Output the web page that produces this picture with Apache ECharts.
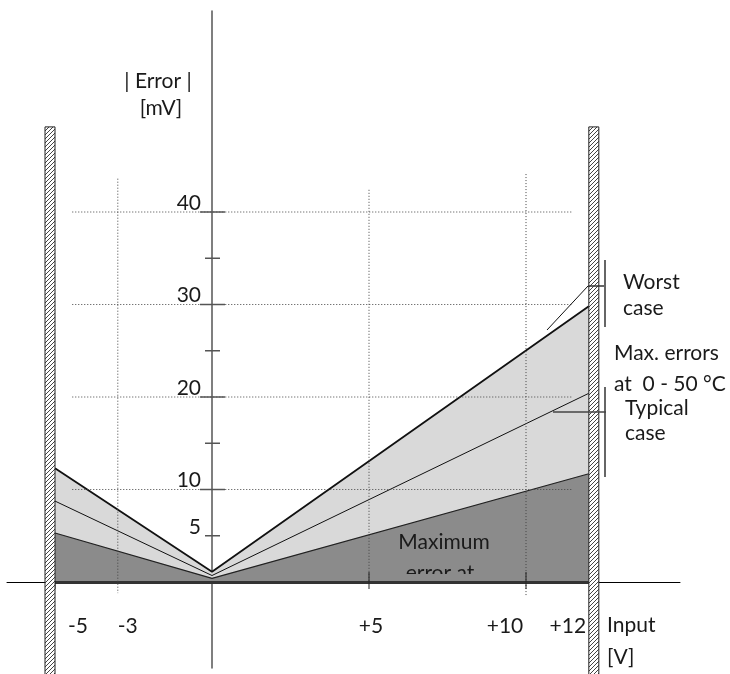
<!DOCTYPE html>
<html><head><meta charset="utf-8">
<script src="https://cdn.jsdelivr.net/npm/echarts@6/dist/echarts.min.js"></script>
<style>html,body{margin:0;padding:0;background:#fff}#c{width:730px;height:674px}</style>
</head><body><div id="c"></div>
<script>
// ---------- data ----------
const xPoints = [-5, 0, 12];
const worstCase = [12.3, 1.1, 29.8];
const typicalCase = [8.75, 0.7, 20.4];
const maxErrorAt = [5.3, 0.4, 11.7];
const yTickValues = [5, 10, 15, 20, 25, 30, 35, 40];
const yLabelValues = [5, 10, 20, 30, 40];
const yLabelTexts = ['5', '10', '20', '30', '40'];
const xTickValues = [-5, 5, 10];
const xLabelValues = [-5, -3, 5, 10, 12];
const xLabelTexts = ['-5', '-3', '+5', '+10', '+12'];
const gridYValues = [10, 20, 30, 40];
const gridXValues = [-3, 5, 10];
const wallXValues = [-5, 12];
const wallTopValue = 49.2;

// ---------- styling / layout ----------
const FONT = 'Lato, "Noto Sans", sans-serif';
const FS = 21;
const TXT = '#1a1a1a';
const xLabelDx = [23, 10, 2, -21, -21];
const GRID_H_FROM = -4.45, GRID_H_TO = 11.5;
const gridXTop = [43.6, 42.4, 44.1];
const gridXBottom = [-1.2, 0, -1.6];
const WALL_BOTTOM = -10;
const WALL_W = 10;

function hatch() {
  const c = document.createElement('canvas');
  c.width = 4; c.height = 4;
  const g = c.getContext('2d');
  g.fillStyle = '#fff'; g.fillRect(0, 0, 4, 4);
  g.strokeStyle = '#444'; g.lineWidth = 1;
  g.beginPath();
  g.moveTo(0, 4); g.lineTo(4, 0);
  g.moveTo(-1, 1); g.lineTo(1, -1);
  g.moveTo(3, 5); g.lineTo(5, 3);
  g.stroke();
  return c;
}
const hatchCanvas = hatch();

const chart = echarts.init(document.getElementById('c'), null, {renderer: 'canvas'});

const pts = arr => xPoints.map((x, i) => [x, arr[i]]);
const txt = (text, x, y, align) => ({type: 'text', z: 100, x, y,
  style: {text, fill: TXT, fontSize: FS, fontFamily: FONT, align: align || 'left', verticalAlign: 'middle'}});

const option = {
  animation: false,
  backgroundColor: '#fff',
  grid: {left: 7, right: 50, top: 11, bottom: 6, containLabel: false, outerBoundsMode: 'none'},
  xAxis: {
    type: 'value', min: -6.529, max: 14.904,
    axisLine: {show: true, onZero: true, lineStyle: {color: '#000', width: 1}},
    axisTick: {show: false}, axisLabel: {show: false}, splitLine: {show: false}
  },
  yAxis: {
    type: 'value', min: -9.297, max: 61.73,
    axisLine: {show: true, onZero: true, lineStyle: {color: '#555', width: 1.5}},
    axisTick: {show: false}, axisLabel: {show: false}, splitLine: {show: false}
  },
  series: [
    {
      name: 'Worst case', type: 'line', data: pts(worstCase), symbol: 'none', z: 2,
      lineStyle: {color: '#111', width: 1.8}, areaStyle: {color: '#d9d9d9', opacity: 1}
    },
    {
      name: 'Maximum error at', type: 'line', data: pts(maxErrorAt), symbol: 'none', z: 3,
      lineStyle: {color: '#222', width: 1.2}, areaStyle: {color: '#8b8b8b', opacity: 1},
      markLine: {
        symbol: 'none', silent: true, label: {show: false},
        lineStyle: {color: '#333', width: 3, type: 'solid'},
        data: [[{coord: [xPoints[0], 0]}, {coord: [xPoints[xPoints.length - 1], 0]}]]
      }
    },
    {
      name: 'Typical case', type: 'line', data: pts(typicalCase), symbol: 'none', z: 4,
      lineStyle: {color: '#111', width: 1}
    },
    {
      name: 'hgrid', type: 'custom', z: 5, silent: true,
      data: gridYValues.map(v => [0, v]),
      renderItem: (params, api) => {
        const y = api.value(1);
        const a = api.coord([GRID_H_FROM, y]), b = api.coord([GRID_H_TO, y]);
        return {type: 'line', shape: {x1: a[0], y1: a[1], x2: b[0], y2: b[1]},
          style: {stroke: '#444', lineWidth: 1, lineDash: [1, 2]}};
      }
    },
    {
      name: 'vgrid', type: 'custom', z: 5, silent: true,
      data: gridXValues.map(v => [v, 0]),
      renderItem: (params, api) => {
        const x = api.value(0), i = params.dataIndex;
        const a = api.coord([x, gridXTop[i]]), b = api.coord([x, gridXBottom[i]]);
        return {type: 'line', shape: {x1: a[0], y1: a[1], x2: b[0], y2: b[1]},
          style: {stroke: '#444', lineWidth: 1, lineDash: [1, 2]}};
      }
    },
    {
      name: 'walls', type: 'custom', z: 7, silent: true, clip: false,
      data: wallXValues.map(v => [v, wallTopValue]),
      renderItem: (params, api) => {
        const x = api.value(0);
        const t = api.coord([x, api.value(1)]), b = api.coord([x, WALL_BOTTOM]);
        const left = params.dataIndex === 0 ? t[0] - WALL_W : t[0];
        return {type: 'rect', shape: {x: left, y: t[1], width: WALL_W, height: b[1] - t[1]},
          style: {fill: {image: hatchCanvas, repeat: 'repeat'}, stroke: '#222', lineWidth: 1}};
      }
    },
    {
      name: 'yticks', type: 'custom', z: 6, silent: true,
      data: yTickValues.map(v => [0, v]),
      renderItem: (params, api) => {
        const v = api.value(1);
        const p = api.coord([0, v]);
        const major = v % 10 === 0;
        return {type: 'line', shape: {x1: p[0] - (major ? 12 : 7), y1: p[1], x2: p[0] + (major ? 13 : 8), y2: p[1]},
          style: {stroke: '#555', lineWidth: 1.5}};
      }
    },
    {
      name: 'xticks', type: 'custom', z: 6, silent: true, clip: false,
      data: xTickValues.map(v => [v, 0]),
      renderItem: (params, api) => {
        const v = api.value(0);
        const p = api.coord([v, 0]);
        const up = v < 0 ? 0 : 10;
        return {type: 'line', shape: {x1: p[0], y1: p[1] - up, x2: p[0], y2: p[1] + 7},
          style: {stroke: '#222', lineWidth: 1}};
      }
    },
    {
      name: 'ylabels', type: 'custom', z: 8, silent: true, clip: false,
      data: yLabelValues.map(v => [0, v]),
      renderItem: (params, api) => {
        const p = api.coord([0, api.value(1)]);
        return {type: 'text', x: p[0] - 11, y: p[1] - 9,
          style: {text: yLabelTexts[params.dataIndex], fill: TXT, fontSize: FS, fontFamily: FONT,
            align: 'right', verticalAlign: 'middle'}};
      }
    },
    {
      name: 'xlabels', type: 'custom', z: 8, silent: true, clip: false,
      data: xLabelValues.map(v => [v, 0]),
      renderItem: (params, api) => {
        const p = api.coord([api.value(0), 0]);
        return {type: 'text', x: p[0] + xLabelDx[params.dataIndex], y: p[1] + 44,
          style: {text: xLabelTexts[params.dataIndex], fill: TXT, fontSize: FS, fontFamily: FONT,
            align: 'center', verticalAlign: 'middle'}};
      }
    }
  ],
  graphic: [
    txt('| Error |', 158, 81, 'center'),
    txt('[mV]', 161, 108, 'center'),
    txt('Input', 607, 625),
    txt('[V]', 607, 657),
    txt('Worst', 623, 282),
    txt('case', 623, 308),
    txt('Max. errors', 614, 353),
    txt('at  0 - 50 °C', 614, 384),
    txt('Typical', 625, 408),
    txt('case', 625, 433),
    txt('Maximum', 444, 542, 'center'),
    txt('error at', 440, 573, 'center'),
    {type: 'rect', z: 101, shape: {x: 395, y: 574, width: 95, height: 6.5}, style: {fill: '#8b8b8b'}},
    {type: 'line', z: 100, shape: {x1: 547, y1: 330, x2: 588, y2: 286}, style: {stroke: '#111', lineWidth: 1}},
    {type: 'line', z: 100, shape: {x1: 588, y1: 286, x2: 605, y2: 286}, style: {stroke: '#333', lineWidth: 1.5}},
    {type: 'line', z: 100, shape: {x1: 605, y1: 260, x2: 605, y2: 327}, style: {stroke: '#666', lineWidth: 2}},
    {type: 'line', z: 100, shape: {x1: 605, y1: 387, x2: 605, y2: 477}, style: {stroke: '#666', lineWidth: 2}},
    {type: 'line', z: 100, shape: {x1: 553, y1: 412, x2: 606, y2: 412}, style: {stroke: '#444', lineWidth: 1.5}}
  ]
};
chart.setOption(option);
</script>
</body></html>
